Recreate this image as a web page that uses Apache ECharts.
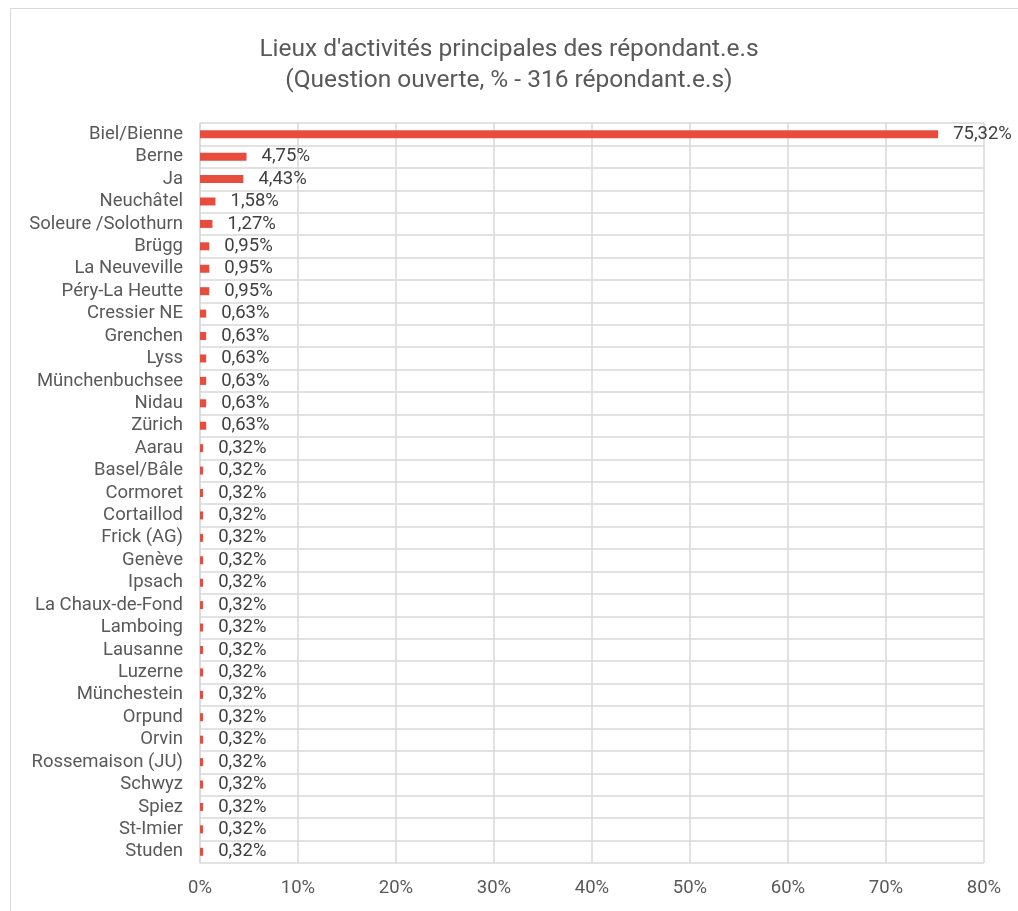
<!DOCTYPE html>
<html><head><meta charset="utf-8">
<script src="https://cdn.jsdelivr.net/npm/echarts@6/dist/echarts.min.js"></script>
<style>
html,body{margin:0;padding:0;background:#fff;}
#frame{position:absolute;left:10px;top:8px;width:1020px;height:920px;border:1px solid #d9d9d9;box-sizing:border-box;}
#chart{position:absolute;left:0;top:0;width:1018px;height:911px;}
</style></head>
<body>
<div id="frame"></div>
<div id="chart"></div>
<script>
const categories = ["Biel/Bienne","Berne","Ja","Neuchâtel","Soleure /Solothurn","Brügg","La Neuveville","Péry-La Heutte","Cressier NE","Grenchen","Lyss","Münchenbuchsee","Nidau","Zürich","Aarau","Basel/Bâle","Cormoret","Cortaillod","Frick (AG)","Genève","Ipsach","La Chaux-de-Fond","Lamboing","Lausanne","Luzerne","Münchestein","Orpund","Orvin","Rossemaison (JU)","Schwyz","Spiez","St-Imier","Studen"];
const values = [75.32,4.75,4.43,1.58,1.27,0.95,0.95,0.95,0.63,0.63,0.63,0.63,0.63,0.63,0.32,0.32,0.32,0.32,0.32,0.32,0.32,0.32,0.32,0.32,0.32,0.32,0.32,0.32,0.32,0.32,0.32,0.32,0.32];
const xTicks = [0,10,20,30,40,50,60,70,80];
const titleLines = ["Lieux d'activités principales des répondant.e.s","(Question ouverte, % - 316 répondant.e.s)"];
const chart = echarts.init(document.getElementById('chart'), null, {renderer:'canvas'});
const fmt = v => v.toFixed(2).replace('.', ',') + '%';
chart.setOption({
  animation:false,
  textStyle:{fontFamily:'Roboto'},
  title:{text:titleLines.join('\n'),left:'center',top:29,textStyle:{fontFamily:'Roboto',fontWeight:'normal',fontSize:24.5,color:'#595959',lineHeight:31}},
  grid:{left:200,right:34,top:123,bottom:48,containLabel:false},
  xAxis:{type:'value',min:xTicks[0],max:xTicks[xTicks.length-1],interval:10,
    axisLine:{show:false},axisTick:{show:false},
    axisLabel:{formatter:v=>v+'%',color:'#595959',fontSize:18.5,margin:16},
    splitLine:{show:true,lineStyle:{color:'#d9d9d9',width:1.5}}},
  yAxis:{type:'category',data:categories,inverse:true,
    axisLine:{show:true,lineStyle:{color:'#d9d9d9',width:1.5}},axisTick:{show:false},
    axisLabel:{color:'#595959',fontSize:18.5,margin:17,interval:0},
    splitLine:{show:true,interval:0,lineStyle:{color:'#d9d9d9',width:1.5}}},
  series:[{type:'bar',data:values,barWidth:8,itemStyle:{color:'#E84C3D'},
    label:{show:true,position:'right',distance:15,color:'#404040',fontSize:18.5,formatter:p=>fmt(p.value)}}]
});
</script>
</body></html>
